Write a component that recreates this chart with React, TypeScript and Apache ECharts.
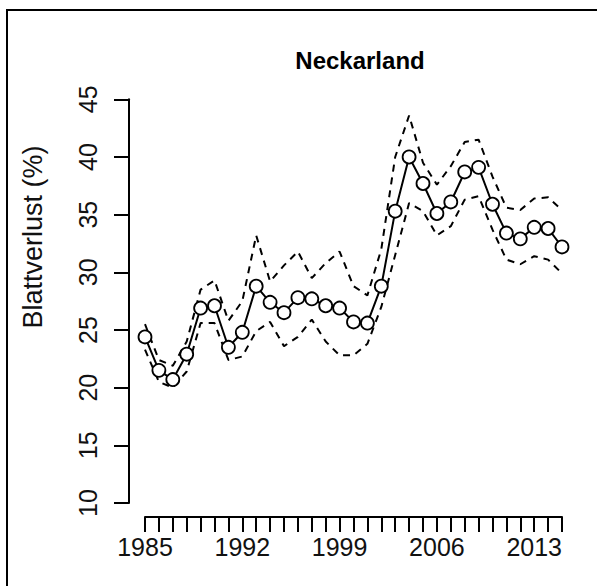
import React, { useEffect, useRef } from "react";
import * as echarts from "echarts";

const years = [1985, 1986, 1987, 1988, 1989, 1990, 1991, 1992, 1993, 1994, 1995, 1996, 1997, 1998, 1999, 2000, 2001, 2002, 2003, 2004, 2005, 2006, 2007, 2008, 2009, 2010, 2011, 2012, 2013, 2014, 2015];
const meanLoss = [24.4, 21.5, 20.7, 22.9, 26.9, 27.1, 23.5, 24.8, 28.8, 27.4, 26.5, 27.8, 27.7, 27.1, 26.9, 25.7, 25.6, 28.8, 35.3, 40.0, 37.7, 35.1, 36.1, 38.7, 39.1, 35.9, 33.4, 32.9, 33.9, 33.8, 32.2];
const upperCI = [25.5, 22.4, 21.9, 24.0, 28.5, 29.3, 25.8, 27.5, 33.2, 29.2, 30.6, 31.8, 29.5, 30.8, 31.8, 28.8, 28.0, 32.0, 40.0, 43.6, 39.5, 37.6, 39.2, 41.3, 41.5, 38.3, 35.6, 35.4, 36.4, 36.5, 35.4];
const lowerCI = [23.3, 20.5, 20.0, 21.4, 25.6, 25.6, 22.4, 22.7, 24.9, 25.7, 23.6, 24.4, 25.9, 24.0, 22.8, 22.8, 23.8, 27.0, 31.5, 36.0, 35.3, 33.2, 34.0, 36.3, 36.6, 33.7, 31.1, 30.7, 31.4, 31.1, 29.9];
const xLabelYears = [1985, 1992, 1999, 2006, 2013];
const titleText = "Neckarland";
const yAxisTitle = "Blattverlust (%)";

const FONT = "Liberation Sans, Arial, sans-serif";

export default function App() {
  const ref = useRef<HTMLDivElement>(null);
  useEffect(() => {
    document.body.style.margin = "0";
    const chart = echarts.init(ref.current!, null, { renderer: "svg" });
    const pair = (arr: number[]) => years.map((y, i) => [y, arr[i]]);
    chart.setOption({
      animation: false,
      backgroundColor: "#ffffff",
      grid: { left: 145, right: 35, top: 99.3, bottom: 83 },
      xAxis: {
        type: "value",
        min: 1985,
        max: 2015,
        interval: 1,
        offset: 14,
        splitLine: { show: false },
        axisLine: { show: true, lineStyle: { color: "#000", width: 2 } },
        axisTick: { show: true, length: 15, lineStyle: { color: "#000", width: 2 } },
        axisLabel: {
          color: "#111",
          fontFamily: FONT,
          fontSize: 25,
          margin: 17,
          formatter: (v: number) => (xLabelYears.includes(v) ? String(v) : ""),
        },
      },
      yAxis: {
        type: "value",
        min: 10,
        max: 45,
        interval: 5,
        offset: 16,
        splitLine: { show: false },
        axisLine: { show: true, lineStyle: { color: "#000", width: 2 } },
        axisTick: { show: true, length: 15, lineStyle: { color: "#000", width: 2 } },
        axisLabel: {
          color: "#111",
          fontFamily: FONT,
          fontSize: 25,
          rotate: 90,
          margin: 29,
        },
      },
      graphic: [
        {
          type: "rect",
          shape: { x: 7, y: 10, width: 800, height: 800 },
          style: { fill: "none", stroke: "#000", lineWidth: 2 },
          silent: true,
        },
        {
          type: "text",
          x: 360,
          y: 60,
          style: {
            text: titleText,
            fill: "#000",
            font: `bold 24px ${FONT}`,
            textAlign: "center",
            textVerticalAlign: "middle",
          },
        },
        {
          type: "text",
          x: 33,
          y: 237,
          rotation: Math.PI / 2,
          style: {
            text: yAxisTitle,
            fill: "#111",
            font: `27px ${FONT}`,
            textAlign: "center",
            textVerticalAlign: "middle",
          },
        },
      ],
      series: [
        {
          type: "line",
          data: pair(upperCI),
          symbol: "none",
          lineStyle: { color: "#000", width: 2, type: [7, 6] },
          z: 2,
        },
        {
          type: "line",
          data: pair(lowerCI),
          symbol: "none",
          lineStyle: { color: "#000", width: 2, type: [7, 6] },
          z: 2,
        },
        {
          type: "line",
          data: pair(meanLoss),
          symbol: "circle",
          symbolSize: 13,
          showAllSymbol: true,
          lineStyle: { color: "#000", width: 2 },
          itemStyle: { color: "#fff", borderColor: "#000", borderWidth: 1.8 },
          z: 3,
        },
      ],
    });
    return () => chart.dispose();
  }, []);
  return <div ref={ref} style={{ width: 597, height: 586 }} />;
}
